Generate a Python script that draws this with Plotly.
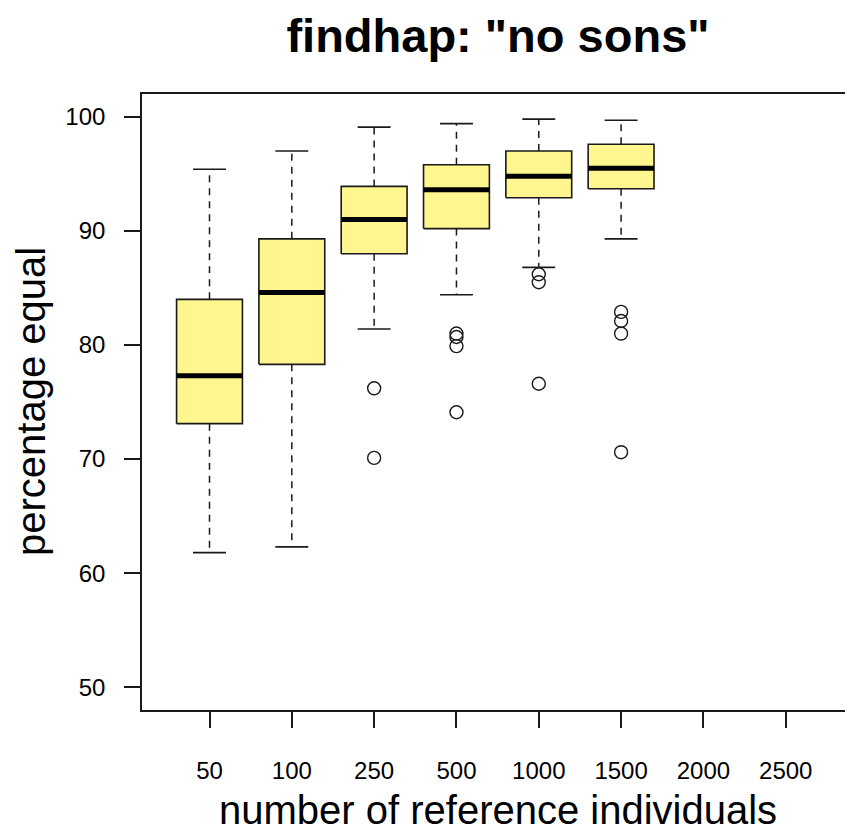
import plotly.graph_objects as go

# Reference panel sizes shown on the x axis
categories = ["50", "100", "250", "500", "1000", "1500", "2000", "2500"]

# Five-number summaries for the panels that have results
lower_whisker = [61.8, 62.3, 81.4, 84.4, 86.8, 89.3]
q1 = [73.1, 78.3, 88.0, 90.2, 92.9, 93.7]
median = [77.3, 84.6, 91.0, 93.6, 94.8, 95.5]
q3 = [84.0, 89.3, 93.9, 95.8, 97.0, 97.6]
upper_whisker = [95.4, 97.0, 99.1, 99.4, 99.8, 99.7]

# Points beyond the whiskers, per panel size
outliers_250 = [76.2, 70.1]
outliers_500 = [81.0, 80.7, 79.9, 74.1]
outliers_1000 = [86.2, 85.5, 76.6]
outliers_1500 = [82.9, 82.1, 81.0, 70.6]
outlier_groups = {"250": outliers_250, "500": outliers_500,
                  "1000": outliers_1000, "1500": outliers_1500}

y_ticks = [50, 60, 70, 80, 90, 100]

BOX_HALF = 0.4
CAP_HALF = 0.2
FILL = "#FFF68F"
INK = "#1a1a1a"
FONT = "Liberation Sans, Arial, Helvetica, sans-serif"

positions = list(range(1, len(categories) + 1))

fig = go.Figure()

# whiskers (dashed) and caps
wx, wy, cx, cy = [], [], [], []
for i, (lo, a, b, hi) in enumerate(zip(lower_whisker, q1, q3, upper_whisker)):
    p = positions[i]
    wx += [p, p, None, p, p, None]
    wy += [b, hi, None, a, lo, None]
    cx += [p - CAP_HALF, p + CAP_HALF, None, p - CAP_HALF, p + CAP_HALF, None]
    cy += [hi, hi, None, lo, lo, None]

fig.add_trace(go.Scatter(x=wx, y=wy, mode="lines", hoverinfo="skip",
                         line=dict(color=INK, width=1.5, dash="7px,6px")))
fig.add_trace(go.Scatter(x=cx, y=cy, mode="lines", hoverinfo="skip",
                         line=dict(color=INK, width=1.6)))

# boxes
for i, (a, b) in enumerate(zip(q1, q3)):
    p = positions[i]
    fig.add_trace(go.Scatter(
        x=[p - BOX_HALF, p + BOX_HALF, p + BOX_HALF, p - BOX_HALF, p - BOX_HALF],
        y=[a, a, b, b, a], mode="lines", fill="toself", fillcolor=FILL,
        line=dict(color=INK, width=1.6), hoverinfo="skip"))

# medians
mx, my = [], []
for i, m in enumerate(median):
    p = positions[i]
    mx += [p - BOX_HALF, p + BOX_HALF, None]
    my += [m, m, None]
fig.add_trace(go.Scatter(x=mx, y=my, mode="lines", hoverinfo="skip",
                         line=dict(color="black", width=5)))

# outliers
ox, oy = [], []
for cat, vals in outlier_groups.items():
    p = positions[categories.index(cat)]
    ox += [p] * len(vals)
    oy += vals
fig.add_trace(go.Scatter(x=ox, y=oy, mode="markers", hoverinfo="skip",
                         marker=dict(symbol="circle-open", size=13,
                                     color=INK, line=dict(width=1.4))))

fig.update_layout(
    width=845, height=837,
    margin=dict(l=142, r=0, t=94, b=127),
    paper_bgcolor="white", plot_bgcolor="white",
    showlegend=False,
    font=dict(family=FONT, color="black"),
    title=dict(text='<b>findhap: "no sons"</b>', font=dict(size=47, family=FONT),
               x=498 / 845, xanchor="center", xref="container",
               y=1 - 36 / 837, yanchor="middle", yref="container"),
    xaxis=dict(range=[0.18, 8.72], tickmode="array", tickvals=positions,
               ticktext=categories, ticks="outside", ticklen=16, tickwidth=1.5,
               tickcolor=INK, showline=True, linecolor=INK, linewidth=1.6,
               mirror=True, showgrid=False, zeroline=False,
               tickfont=dict(size=24), ticklabelstandoff=22),
    yaxis=dict(range=[48, 102], tickmode="array", tickvals=y_ticks,
               ticks="outside", ticklen=16, tickwidth=1.5, tickcolor=INK,
               showline=True, linecolor=INK, linewidth=1.6, showgrid=False,
               zeroline=False, tickfont=dict(size=24), ticklabelstandoff=14),
    annotations=[
        dict(text="number of reference individuals", xref="paper", yref="paper",
             x=(498 - 142) / 703, y=0, yshift=-100, xanchor="center",
             yanchor="middle", showarrow=False, font=dict(size=40)),
        dict(text="percentage equal", xref="paper", yref="paper",
             x=0, xshift=-111, y=0.5, xanchor="center", yanchor="middle",
             textangle=-90, showarrow=False, font=dict(size=40)),
    ],
)

fig.write_html("out.html")
